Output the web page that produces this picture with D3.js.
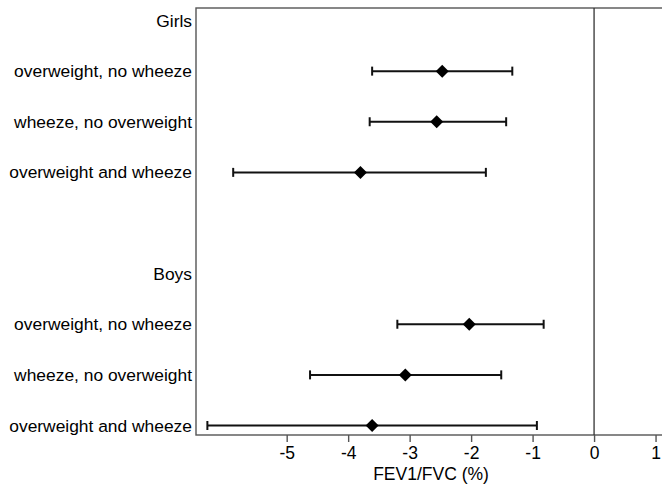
<!DOCTYPE html>
<html><head><meta charset="utf-8">
<script src="https://cdn.jsdelivr.net/npm/d3@7"></script>
<style>body{margin:0;background:#fff;} svg{display:block;} text{font-family:"Liberation Sans",Arial,sans-serif;fill:#000;}</style>
</head><body>
<svg id="chart" width="662" height="485"></svg>
<script>
// Row slots (top to bottom); headers and a blank spacer row included
const slots = ["Girls", "g1", "g2", "g3", "gap", "Boys", "b1", "b2", "b3"];
const slotLabels = ["Girls", "overweight, no wheeze", "wheeze, no overweight", "overweight and wheeze", "", "Boys", "overweight, no wheeze", "wheeze, no overweight", "overweight and wheeze"];
// Estimates with confidence intervals
const estSlots = ["g1", "g2", "g3", "b1", "b2", "b3"];
const estimates = [-2.47, -2.56, -3.80, -2.03, -3.07, -3.61];
const lower = [-3.61, -3.65, -5.87, -3.20, -4.62, -6.29];
const upper = [-1.33, -1.43, -1.76, -0.82, -1.51, -0.93];
const xTicks = [-5, -4, -3, -2, -1, 0, 1];
const xTitle = "FEV1/FVC (%)";

const svg = d3.select("#chart");
const L = 196, R = 666, T = 8, B = 435;
const x = d3.scaleLinear().domain([-6.475, 1.17]).range([L, R]);
const y = d3.scalePoint().domain(slots).range([20.5, 425.5]);

// frame
svg.append("rect").attr("x", L).attr("y", T).attr("width", R - L).attr("height", B - T)
  .attr("fill", "none").attr("stroke", "#555").attr("stroke-width", 1.4);

// zero reference line
svg.append("line").attr("x1", x(0)).attr("x2", x(0)).attr("y1", T).attr("y2", B)
  .attr("stroke", "#333").attr("stroke-width", 1.3);

// x axis
const ax = svg.append("g").attr("transform", `translate(0,${B})`)
  .call(d3.axisBottom(x).tickValues(xTicks).tickSize(7).tickPadding(5).tickFormat(d => d < 0 ? "-" + Math.abs(d) : d));
ax.attr("font-size", null).attr("font-family", null);
ax.select(".domain").remove();
ax.selectAll(".tick line").attr("stroke", "#555").attr("stroke-width", 1.4);
ax.selectAll(".tick text").style("font-size", "17.5px").attr("fill", "#000");

svg.append("text").attr("x", (L + R) / 2).attr("y", 480).attr("text-anchor", "middle")
  .style("font-size", "17.5px").text(xTitle);

// row labels
svg.append("g").selectAll("text").data(slots).join("text")
  .attr("x", 192).attr("y", d => y(d)).attr("dy", "0.35em")
  .attr("text-anchor", "end").style("font-size", "17.4px")
  .text((d, i) => slotLabels[i]);

// error bars
const g = svg.append("g");
const data = estSlots.map((s, i) => ({ s, e: estimates[i], lo: lower[i], hi: upper[i] }));
g.selectAll("line.ci").data(data).join("line").attr("class", "ci")
  .attr("x1", d => x(d.lo)).attr("x2", d => x(d.hi))
  .attr("y1", d => y(d.s)).attr("y2", d => y(d.s))
  .attr("stroke", "#111").attr("stroke-width", 2);
["lo", "hi"].forEach(k => {
  g.selectAll("line.cap" + k).data(data).join("line").attr("class", "cap" + k)
    .attr("x1", d => x(d[k])).attr("x2", d => x(d[k]))
    .attr("y1", d => y(d.s) - 4.5).attr("y2", d => y(d.s) + 4.5)
    .attr("stroke", "#111").attr("stroke-width", 2);
});
g.selectAll("path.pt").data(data).join("path").attr("class", "pt")
  .attr("d", d => { const cx = x(d.e), cy = y(d.s), r = 6.5; return `M${cx},${cy - r}L${cx + r},${cy}L${cx},${cy + r}L${cx - r},${cy}Z`; })
  .attr("fill", "#000");
</script>
</body></html>
